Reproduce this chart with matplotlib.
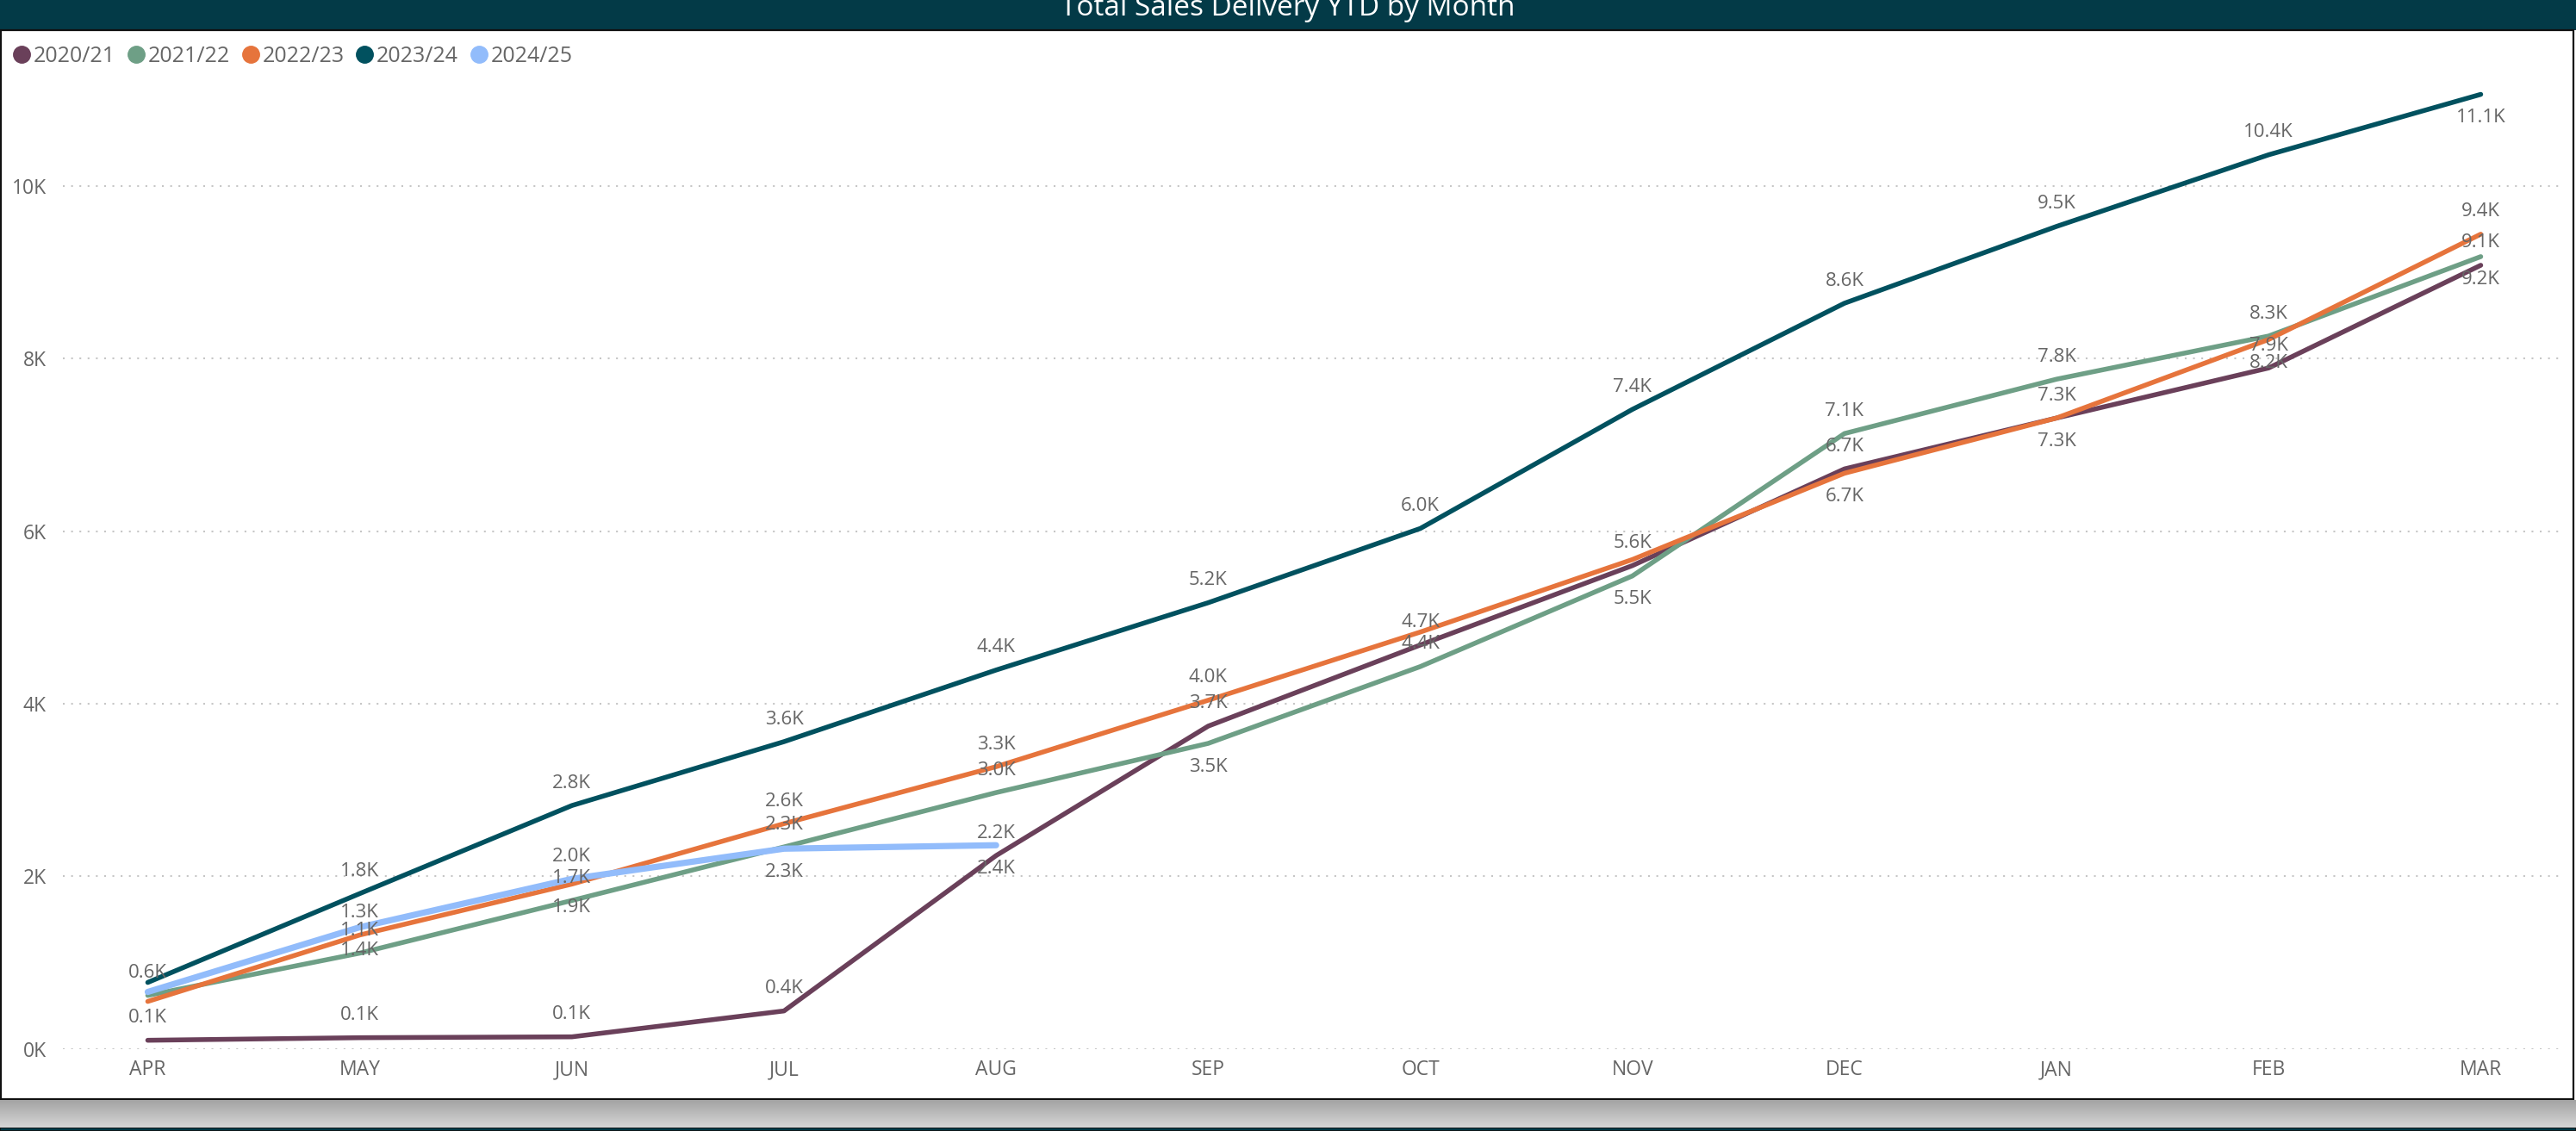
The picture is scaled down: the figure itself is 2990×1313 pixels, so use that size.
import matplotlib
matplotlib.use("Agg")
import matplotlib.pyplot as plt
from matplotlib.patches import Rectangle
from matplotlib.lines import Line2D
import numpy as np

plt.rcParams['font.family'] = ['Open Sans', 'DejaVu Sans']

# ---------------- data (values in thousands) ----------------
months = ["APR", "MAY", "JUN", "JUL", "AUG", "SEP", "OCT", "NOV", "DEC", "JAN", "FEB", "MAR"]
series_names = ["2020/21", "2021/22", "2022/23", "2023/24", "2024/25"]
fy2020_21 = [0.10, 0.13, 0.14, 0.44, 2.24, 3.74, 4.68, 5.60, 6.72, 7.31, 7.89, 9.08]
fy2021_22 = [0.62, 1.11, 1.72, 2.34, 2.97, 3.54, 4.43, 5.48, 7.13, 7.76, 8.26, 9.18]
fy2022_23 = [0.55, 1.32, 1.91, 2.61, 3.27, 4.04, 4.83, 5.67, 6.67, 7.31, 8.22, 9.44]
fy2023_24 = [0.77, 1.80, 2.82, 3.56, 4.39, 5.17, 6.03, 7.41, 8.64, 9.53, 10.36, 11.06]
fy2024_25 = [0.66, 1.41, 1.97, 2.32, 2.36]
y_ticks = [0, 2, 4, 6, 8, 10]
y_tick_labels = ["0K", "2K", "4K", "6K", "8K", "10K"]

# ---------------- style ----------------
colors = ["#6A405A", "#6E9F86", "#E6743C", "#01515F", "#92BCFB"]
widths = [4.0, 4.0, 4.0, 4.0, 5.2]
# label placement per point: 'a' above, 'b' below, None hidden (overlap)
label_pos = [
    ['a'] * 12,
    ['a', 'a', 'a', 'a', 'a', 'b', 'a', 'b', 'a', 'a', 'a', 'b'],
    [None, 'a', 'b', 'a', 'a', 'a', None, None, 'b', 'b', 'b', 'a'],
    [None, 'a', 'a', 'a', 'a', 'a', 'a', 'a', 'a', 'a', 'a', 'b'],
    [None, 'b', 'a', 'b', 'b'],
]
W, H = 2990, 1313
def fx(px): return px / W
def fy(py): return 1 - py / H

BAR = "#033A47"
TXT = "#666666"

fig = plt.figure(figsize=(W / 100, H / 100), dpi=100)
fig.patch.set_facecolor("white")

# title bar
fig.patches.append(Rectangle((0, fy(35)), 1, 35 / H, transform=fig.transFigure,
                             facecolor=BAR, edgecolor="none", zorder=-2))
fig.text(0.5, fy(18), "Total Sales Delivery YTD by Month", color="white",
         fontsize=24, ha="center", va="baseline", zorder=5)
# panel border
fig.patches.append(Rectangle((fx(1), fy(1276)), fx(2986), (1276 - 35) / H,
                             transform=fig.transFigure, facecolor="none",
                             edgecolor="#111111", linewidth=1.6, zorder=-1))
# shadow gradient
sax = fig.add_axes([0, fy(1309), 1, (1309 - 1277) / H])
grad = np.linspace(0, 1, 64).reshape(-1, 1)
top_c = np.array([0.64, 0.64, 0.64])
bot_c = np.array([0.84, 0.84, 0.84])
img = top_c + (bot_c - top_c) * grad
sax.imshow(img.reshape(64, 1, 3), aspect="auto", extent=[0, 1, 0, 1])
sax.axis("off")
# bottom bar
fig.patches.append(Rectangle((0, 0), 1, 4.5 / H, transform=fig.transFigure,
                             facecolor=BAR, edgecolor="#111111", linewidth=1.2, zorder=-1))

# ---------------- chart ----------------
ax = fig.add_axes([fx(73), fy(1217.7), fx(2973) - fx(73), (1217.7 - 85.5) / H])
ax.set_facecolor("none")
data = [fy2020_21, fy2021_22, fy2022_23, fy2023_24, fy2024_25]
x_all = np.arange(len(months))
for vals, name, c, lw in zip(data, series_names, colors, widths):
    ax.plot(x_all[:len(vals)], vals, color=c, lw=lw, solid_capstyle="round",
            solid_joinstyle="round", label=name)

for vals, c, pos in zip(data, colors, label_pos):
    for i, v in enumerate(vals):
        p = pos[i]
        if p is None:
            continue
        off = 18.7 if p == 'a' else -19.5
        ax.annotate(f"{v:.1f}K", (i, v), xytext=(0, off), textcoords="offset points",
                    ha="center", va="center", fontsize=16, color=TXT, zorder=10)

ax.set_xlim(-0.40, 11.38)
ax.set_ylim(0, 11.3)
ax.set_xticks(x_all)
ax.set_xticklabels(months)
ax.set_yticks(y_ticks)
ax.set_yticklabels(y_tick_labels)
ax.tick_params(axis="both", length=0, labelsize=16.5, labelcolor=TXT)
ax.tick_params(axis="y", pad=14)
ax.tick_params(axis="x", pad=9)
for s in ax.spines.values():
    s.set_visible(False)
ax.grid(axis="y", color="#C6C6C6", linestyle=(0, (1, 3.6)), linewidth=1.5)
ax.set_axisbelow(True)

# legend
handles = [Line2D([], [], linestyle="none", marker="o", markersize=14,
                  markerfacecolor=c, markeredgecolor=c) for c in colors]
fig.legend(handles, series_names, loc="center left", bbox_to_anchor=(fx(14), fy(65)),
           ncol=5, frameon=False, fontsize=18, labelcolor=TXT, handlelength=0.9,
           handletextpad=0.1, columnspacing=0.5, borderpad=0, borderaxespad=0)

fig.savefig("out.png", dpi=100, facecolor="white")
